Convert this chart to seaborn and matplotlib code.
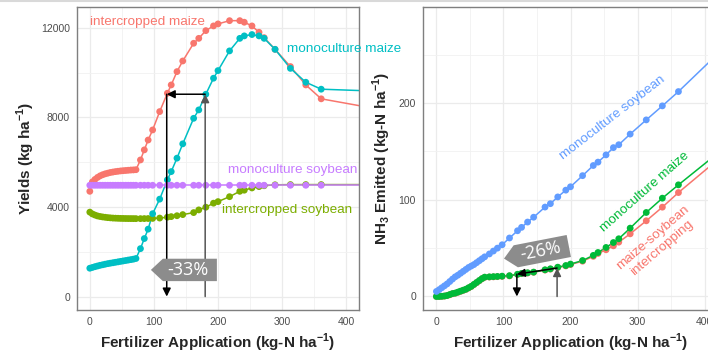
import matplotlib
matplotlib.use("Agg")
import matplotlib.pyplot as plt
import matplotlib.transforms as mtransforms
from matplotlib.patches import Polygon
from matplotlib.lines import Line2D
from matplotlib.ticker import MultipleLocator
import seaborn as sns
import pandas as pd

# fertilizer rates (kg-N/ha) where the model was evaluated
rates = [0, 4, 8, 12, 16, 20, 24, 28, 32, 36, 40, 44, 48, 52, 56, 60, 64, 68, 72,
         79, 85, 91, 98, 109, 121, 127, 136, 145, 162, 170, 181, 193, 200,
         218, 234, 241, 253, 264, 272, 289, 313, 337, 361]
tail_rate = 430  # lines run on past the last marker

# yields (kg/ha)
int_maize = [4700, 5120, 5230, 5320, 5390, 5440, 5480, 5510, 5540, 5560, 5580, 5595, 5610, 5620, 5630, 5640, 5650, 5655, 5665,
             6100, 6550, 6990, 7440, 8260, 9080, 9450, 10045, 10520, 11310, 11530, 11875, 12085, 12175,
             12320, 12320, 12250, 12085, 11800, 11560, 11040, 10270, 9450, 8830]
int_soy = [3770, 3690, 3640, 3600, 3575, 3555, 3540, 3525, 3515, 3505, 3500, 3495, 3490, 3488, 3485, 3483, 3482, 3481, 3480,
           3480, 3482, 3485, 3490, 3505, 3545, 3570, 3610, 3660, 3750, 3870, 3990, 4170, 4240,
           4460, 4700, 4750, 4850, 4910, 4950, 4990, 5000, 5000, 5000]
mono_maize = [1266, 1300, 1335, 1365, 1395, 1420, 1445, 1470, 1490, 1510, 1530, 1550, 1570, 1590, 1610, 1630, 1650, 1670, 1700,
              2140, 2590, 3010, 3700, 4350, 5210, 5580, 6180, 6820, 7960, 8335, 9035, 9750, 10090,
              10970, 11530, 11640, 11700, 11640, 11530, 11040, 10190, 9570, 9260]
mono_soy = [4970, 4970, 4970, 4970, 4970, 4970, 4970, 4970, 4970, 4970, 4970, 4970, 4970, 4970, 4970, 4970, 4970, 4970, 4970,
            4970, 4970, 4970, 4970, 4970, 4970, 4970, 4970, 4970, 4970, 4970, 4970, 4970, 4970,
            4970, 4970, 4970, 4970, 4970, 4970, 4970, 4970, 4970, 4970]
yield_tail = {"intercropped maize": 8475, "intercropped soybean": 5000,
              "monoculture maize": 9190, "monoculture soybean": 4970}

# NH3 emitted (kg-N/ha)
int_nh3 = [0, 0, 0.1, 0.4, 0.9, 1.8, 2.8, 3.3, 4.3, 5.3, 6.3, 7.3, 8.8, 10.3, 12.3, 14.3, 16.3, 18.3, 19.8,
           20.1, 20.3, 20.5, 20.8, 21.3, 22.8, 23.6, 24.3, 25, 27.3, 28.3, 30, 31.6, 33,
           36.5, 41.5, 44.5, 48.3, 52.4, 56.2, 64.8, 78.3, 92.4, 107.5]
mono_maize_nh3 = [0, 0, 0.2, 0.5, 1, 2, 3, 3.5, 4.5, 5.5, 6.5, 7.5, 9, 10.5, 12.5, 14.5, 16.5, 18.5, 20,
                  20.3, 20.5, 20.7, 21, 21.5, 23, 23.8, 24.5, 25.2, 27.6, 28.6, 30.3, 32, 33.5,
                  37.2, 42.5, 45.5, 50.7, 55.8, 59.7, 70.7, 86.9, 101.7, 115.5]
mono_soy_nh3 = [5.2, 7, 9, 11, 13, 15.5, 18, 20.3, 22, 24, 26, 28, 30, 31.5, 33, 35, 37, 39, 41,
                44, 47, 50, 53.5, 60.5, 68, 71.5, 77, 82, 92.5, 96, 103, 110, 113.5,
                125, 135.5, 139, 146.5, 154, 157, 168, 182.7, 197.2, 212]
nh3_tail = {"maize-soybean intercropping": 147.5, "monoculture maize": 154,
            "monoculture soybean": 258}

yield_series = {"intercropped maize": int_maize, "intercropped soybean": int_soy,
                "monoculture maize": mono_maize, "monoculture soybean": mono_soy}
nh3_series = {"maize-soybean intercropping": int_nh3, "monoculture maize": mono_maize_nh3,
              "monoculture soybean": mono_soy_nh3}

yield_colors = {"intercropped maize": "#F8766D", "intercropped soybean": "#7CAE00",
                "monoculture maize": "#00BFC4", "monoculture soybean": "#C77CFF"}
nh3_colors = {"maize-soybean intercropping": "#F8766D", "monoculture maize": "#00BA38",
              "monoculture soybean": "#619CFF"}


def long_frame(series, tails):
    rows = []
    for name, vals in series.items():
        for x, y in zip(rates + [tail_rate], vals + [tails[name]]):
            rows.append((name, x, y))
    return pd.DataFrame(rows, columns=["crop", "rate", "value"])


sns.set_theme(style="white")
plt.rcParams["font.family"] = ["Liberation Sans", "DejaVu Sans"]
plt.rcParams["mathtext.fontset"] = "custom"
plt.rcParams["mathtext.rm"] = "Liberation Sans:bold"
plt.rcParams["mathtext.bf"] = "Liberation Sans:bold"

fig = plt.figure(figsize=(7.08, 3.57), dpi=100)
W, H = 708, 357
ax1 = fig.add_axes([77 / W, 47 / H, 282 / W, 303 / H])
ax2 = fig.add_axes([423 / W, 47 / H, 295 / W, 303 / H])
fig.add_artist(Line2D([0, 1], [0.997, 0.997], transform=fig.transFigure, color="#d9d9d9", lw=1.5))


def style(ax, ylim, ymaj, ymin):
    ax.set_xlim(-20, 420)
    ax.set_ylim(*ylim)
    ax.xaxis.set_major_locator(MultipleLocator(100))
    ax.xaxis.set_minor_locator(MultipleLocator(50))
    ax.yaxis.set_major_locator(MultipleLocator(ymaj))
    ax.yaxis.set_minor_locator(MultipleLocator(ymin))
    ax.grid(which="major", color="#EBEBEB", lw=0.9)
    ax.grid(which="minor", color="#F1F1F1", lw=0.6)
    ax.set_axisbelow(True)
    ax.tick_params(which="major", length=3, width=0.8, color="#555555",
                   labelsize=7.5, labelcolor="#4D4D4D", pad=2)
    ax.tick_params(which="minor", length=0)
    for s in ax.spines.values():
        s.set_color("#7F7F7F")
        s.set_linewidth(1.0)
    ax.set_xlabel("Fertilizer Application (kg-N ha$^{-1}$)", fontsize=11, fontweight="bold")
    ax.xaxis.label.set_va("center")
    ax.xaxis.set_label_coords(0.5, -0.11)


def arrow(ax, x0, y0, x1, y1, color):
    ax.annotate("", xy=(x1, y1), xytext=(x0, y0), zorder=6,
                arrowprops=dict(arrowstyle="-|>,head_length=0.4,head_width=0.2",
                                color=color, lw=1.1, shrinkA=0, shrinkB=0))


def tag(ax, x, y, label, angle=0):
    verts = [(-37, 0), (-25, 11.2), (29, 11.2), (29, -11.2), (-25, -11.2)]
    tr = (mtransforms.Affine2D().scale(1 / 100).rotate_deg(angle)
          + fig.dpi_scale_trans + mtransforms.ScaledTranslation(x, y, ax.transData))
    ax.add_patch(Polygon(verts, closed=True, transform=tr, facecolor="#8C8C8C",
                         edgecolor="none", zorder=7, clip_on=False))
    ax.text(x, y, label, rotation=angle, rotation_mode="anchor", ha="center", va="center",
            color="white", fontsize=13, family="Open Sans", zorder=8)


# left panel: yields
ydf = long_frame(yield_series, yield_tail)
sns.lineplot(data=ydf, x="rate", y="value", hue="crop", palette=yield_colors,
             hue_order=list(yield_series), lw=1.1, legend=False, ax=ax1)
sns.scatterplot(data=ydf[ydf["rate"] <= 361], x="rate", y="value", hue="crop",
                palette=yield_colors, hue_order=list(yield_series), s=24,
                linewidth=0, legend=False, ax=ax1, zorder=3)
style(ax1, (-600, 12930), 4000, 2000)
ax1.set_ylabel("Yields (kg ha$^{-1}$)", fontsize=11, fontweight="bold")
ax1.yaxis.label.set_va("center")
ax1.yaxis.set_label_coords(-0.183, 0.5)

arrow(ax1, 180, 0, 180, 9035, "#555555")
arrow(ax1, 180, 9035, 120, 9035, "black")
arrow(ax1, 120, 9035, 120, 0, "black")
tag(ax1, 153, 1190, "-33%")

lab = dict(fontsize=9.7, ha="center", va="center")
ax1.text(90, 12250, "intercropped maize", color=yield_colors["intercropped maize"], **lab)
ax1.text(396, 11045, "monoculture maize", color=yield_colors["monoculture maize"], **lab)
ax1.text(317, 5656, "monoculture soybean", color=yield_colors["monoculture soybean"], **lab)
ax1.text(308, 3870, "intercropped soybean", color=yield_colors["intercropped soybean"], **lab)

# right panel: NH3
ndf = long_frame(nh3_series, nh3_tail)
sns.lineplot(data=ndf, x="rate", y="value", hue="crop", palette=nh3_colors,
             hue_order=list(nh3_series), lw=1.1, legend=False, ax=ax2)
sns.scatterplot(data=ndf[ndf["rate"] <= 361], x="rate", y="value", hue="crop",
                palette=nh3_colors, hue_order=list(nh3_series), s=24,
                linewidth=0, legend=False, ax=ax2, zorder=3)
style(ax2, (-14, 299.5), 100, 50)
ax2.set_ylabel("NH$_3$ Emitted (kg-N ha$^{-1}$)", fontsize=11, fontweight="bold")
ax2.yaxis.label.set_va("center")
ax2.yaxis.set_label_coords(-0.139, 0.5)

arrow(ax2, 180, 0, 180, 29.4, "#555555")
arrow(ax2, 180, 29.4, 120, 23.1, "black")
arrow(ax2, 120, 23.1, 120, 0, "black")
tag(ax2, 155, 46.5, "-26%", angle=11)

rl = dict(fontsize=9.7, ha="center", va="center", rotation_mode="anchor")
ax2.text(263, 185.3, "monoculture soybean", rotation=37.7,
         color=nh3_colors["monoculture soybean"], **rl)
ax2.text(311, 108.6, "monoculture maize", rotation=41.5,
         color=nh3_colors["monoculture maize"], **rl)
ax2.text(329, 55.5, "maize-soybean\nintercropping", rotation=40.7,
         color=nh3_colors["maize-soybean intercropping"], **rl)

fig.savefig("out.png", dpi=100)
